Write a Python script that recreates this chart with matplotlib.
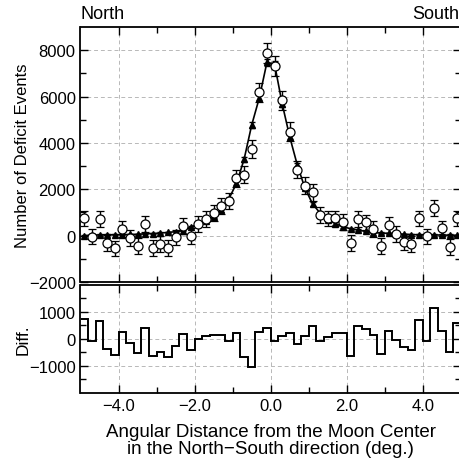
import numpy as np
import matplotlib
matplotlib.use("Agg")
import matplotlib.pyplot as plt

plt.rcParams['font.family'] = ['Liberation Sans', 'DejaVu Sans']

# bin centres (deg.)
x = np.round(np.arange(-4.9, 5.0, 0.2), 1)
edges = np.round(np.arange(-5.0, 5.01, 0.2), 1)

data = [744, -40, 710, -320, -550, 290, -110, -450, 510, -530,
        -370, -530, -80, 400, -20, 500, 730, 970, 1270, 1500,
        2470, 2620, 3740, 6190, 7880, 7320, 5830, 4490, 2850, 2150,
        1870, 890, 740, 740, 600, -320, 710, 570, 280, -440,
        450, 60, -270, -370, 740, -35, 1190, 310, -480, 740]
data_err = [340, 340, 340, 340, 340, 340, 340, 340, 340, 340,
            340, 340, 340, 340, 340, 340, 340, 340, 350, 360,
            360, 370, 390, 410, 430, 430, 410, 400, 380, 360,
            360, 350, 340, 340, 340, 340, 340, 340, 340, 340,
            340, 340, 340, 340, 340, 340, 340, 340, 340, 340]

model = [0, 20, 30, 40, 40, 40, 50, 60, 80, 90,
         110, 140, 170, 220, 380, 490, 640, 810, 1100, 1590,
         2250, 3290, 4770, 5940, 7470, 7410, 5700, 4260, 3040, 2050,
         1370, 970, 690, 520, 380, 300, 240, 180, 130, 110,
         100, 85, 60, 45, 40, 35, 30, 25, 20, 15]
model_err = [30, 30, 30, 30, 30, 30, 30, 30, 30, 30,
             30, 30, 30, 40, 40, 50, 50, 60, 70, 80,
             90, 100, 120, 130, 140, 140, 130, 120, 100, 90,
             80, 70, 60, 50, 50, 40, 40, 30, 30, 30,
             30, 30, 30, 30, 30, 30, 30, 30, 30, 30]

diff = [749, -63, 662, -375, -587, 250, -150, -524, 412, -624,
        -487, -674, -250, 187, -400, 0, 100, 162, 162, -87,
        225, -674, -1024, 250, 412, -87, 125, 225, -187, 100,
        499, -87, 60, 225, 225, -624, 474, 387, 162, -549,
        312, -25, -300, -400, 687, -87, 1136, 287, -490, 600]

fig = plt.figure(figsize=(4.6, 4.6), dpi=100)
ax1 = fig.add_axes([0.175, 0.3848, 0.827, 0.5543])
ax2 = fig.add_axes([0.175, 0.1435, 0.827, 0.2348])

grid_kw = dict(color='#b8b8b8', linestyle=(0, (4, 3)), linewidth=0.7)

for ax in (ax1, ax2):
    ax.set_xlim(-5, 5)
    ax.set_xticks([-4, -2, 0, 2, 4])
    ax.set_xticks([-3, -1, 1, 3], minor=True)
    ax.tick_params(which='both', direction='in', top=True, right=True,
                   labelsize=12, width=1.0)
    ax.tick_params(which='major', length=6)
    ax.tick_params(which='minor', length=4)
    for s in ax.spines.values():
        s.set_linewidth(1.3)
    ax.grid(True, which='major', **grid_kw)
    ax.set_axisbelow(True)

# top panel
ax1.errorbar(x, model, yerr=model_err, fmt='-', color='black', lw=1.2,
             marker='^', ms=4.0, mfc='black', mec='black',
             elinewidth=1.0, capsize=2.5, capthick=1.0, zorder=3)
ax1.errorbar(x, data, yerr=data_err, fmt='o', color='black',
             ms=6.5, mfc='white', mec='black', mew=0.9,
             elinewidth=1.0, capsize=3, capthick=1.0, zorder=4)
ax1.set_ylim(-2000, 9000)
ax1.set_yticks([-2000, 0, 2000, 4000, 6000, 8000])
ax1.set_yticks([-1000, 1000, 3000, 5000, 7000], minor=True)
ax1.set_yticklabels(['\u22122000', '0', '2000', '4000', '6000', '8000'])
ax1.tick_params(labelbottom=False)
ax1.set_ylabel('Number of Deficit Events', fontsize=12)
ax1.text(0.0, 1.02, 'North', transform=ax1.transAxes, ha='left',
         va='bottom', fontsize=13)
ax1.text(0.995, 1.02, 'South', transform=ax1.transAxes, ha='right',
         va='bottom', fontsize=13)

# bottom panel
ax2.stairs(diff, edges, color='black', lw=1.4, baseline=None)
ax2.set_ylim(-2000, 2000)
ax2.set_yticks([-1000, 0, 1000])
ax2.set_yticks([-1500, -500, 500, 1500], minor=True)
ax2.set_yticklabels(['\u22121000', '0', '1000'])
ax2.set_xticklabels(['\u22124.0', '\u22122.0', '0.0', '2.0', '4.0'])
ax2.set_ylabel('Diff.', fontsize=12.5)
ax2.set_xlabel('Angular Distance from the Moon Center\n'
               'in the North\u2212South direction (deg.)', fontsize=13.5,
               linespacing=1.0, labelpad=7)
ax1.yaxis.set_label_coords(-0.132, 0.5)
ax2.yaxis.set_label_coords(-0.132, 0.5)

fig.savefig('out.png', dpi=100)
